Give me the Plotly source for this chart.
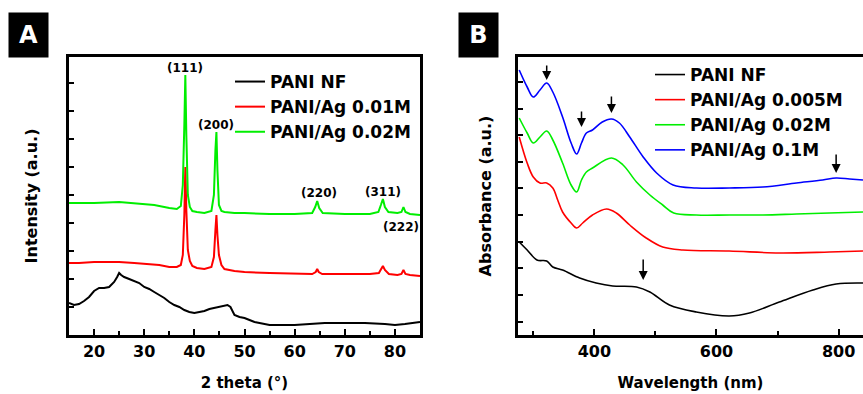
import plotly.graph_objects as go

# ---------------- Panel A: XRD ----------------
xrd_nf_x = [15,15.5,16,17,18,19,20,21,22,23,24,24.6,25,25.4,26,27,28,29,30,31,32,33,34,35,36,37,38,39,40,41,
            42,43,44,45,46,46.6,47.2,47.6,48,49,50,51,52,53,54,55,57,60,63,66,70,74,78,80,82,84,85]
xrd_nf_y = [32,31,30,31,34,38,44,47,47,48,53,58,62,60,58,56,54,52,48,46,43,40,37,33,30,28,25,23,22,23,
            24,26,27,28,29,30,28,24,20,18,17,15,13,12,11,10,10,10,11,12,12,12,11,10,11,12,13]

xrd_001_x = [15,17,20,23,25,28,30,33,35,36.5,37.3,37.7,38.0,38.2,38.4,38.7,39.1,39.6,40.5,42,
             43.4,43.9,44.2,44.4,44.6,44.9,45.4,46,48,50,55,60,63.5,64.2,64.5,64.8,65.5,70,75,76.8,
             77.3,77.6,78.0,78.8,80.5,81.3,81.7,82.1,83,85]
xrd_001_y = [72,72,73,73,73,72,71,70,68,68,70,80,120,168,125,85,74,69,67,66,
             68,78,105,120,100,80,70,66,64,63,62,61,61,63,66,63,61,61,61,62,
             66,69,65,61,60,61,65,61,60,59]

xrd_002_x = [15,20,25,28,32,35,36.5,37.3,37.7,38.0,38.2,38.4,38.7,39.1,39.6,40.5,42,43.4,43.9,44.2,
             44.4,44.6,44.9,45.4,46,48,50,55,60,63.5,64.1,64.5,64.9,65.6,70,75,76.7,77.2,77.6,78.0,
             78.7,80.5,81.3,81.7,82.1,83,85]
xrd_002_y = [132,132,133,132,130,127,126,129,150,210,260,200,140,128,124,123,122,124,140,185,
             203,165,130,124,123,122,122,121,121,122,128,134,127,122,121,121,123,130,136,128,
             123,122,123,128,123,121,120]

peak_labels = ["(111)", "(200)", "(220)", "(311)", "(222)"]
peak_label_x = [38.2, 44.4, 64.8, 77.6, 81.2]
peak_label_y = [267, 210, 142, 143, 108]

# ---------------- Panel B: UV-Vis ----------------
uv_nf_x = [277,290,306,322,332,348,376,403,430,469,491,523,567,621,654,703,758,796,840]
uv_nf_y = [93,85,75,74,68,65,57,52,49,48,43,30,23,19,22,33,45,51,52]

uv_0005_x = [277,290,300,311,322,332,340,348,362,371,381,397,420,436,458,485,512,545,621,703,785,840]
uv_0005_y = [198,172,158,152,152,147,135,123,112,107,112,120,126,122,110,97,88,85,84,82,83,84]

uv_002_x = [277,290,300,311,322,332,348,362,371,379,387,397,428,447,469,491,512,530,567,621,676,731,785,840]
uv_002_y = [217,202,192,198,204,195,172,150,143,155,163,167,177,170,153,140,130,122,120,120,120,121,122,123]

uv_01_x = [277,290,300,311,322,332,348,362,371,379,387,397,413,428,441,458,480,502,529,567,621,676,731,774,796,818,840]
uv_01_y = [265,248,238,245,252,243,218,192,181,192,202,205,213,216,212,198,178,162,150,147,147,148,152,155,157,156,155]

arrow_x = [322, 379, 428, 796, 480]
arrow_y = [255, 208, 222, 162, 55]
arrow_len = [-16, -17, -18, -20, -22]

FONT = "DejaVu Sans, Arial, sans-serif"
W, H = 863, 394
L_A, R_A = 69, 420
L_B = 518
TOP, BOT = 57, 335

fig = go.Figure()

fig.add_trace(go.Scatter(x=xrd_nf_x, y=xrd_nf_y, mode="lines", name="PANI NF",
                         line=dict(color="black", width=2), xaxis="x", yaxis="y", legend="legend"))
fig.add_trace(go.Scatter(x=xrd_001_x, y=xrd_001_y, mode="lines", name="PANI/Ag 0.01M",
                         line=dict(color="#ff0000", width=2), xaxis="x", yaxis="y", legend="legend"))
fig.add_trace(go.Scatter(x=xrd_002_x, y=xrd_002_y, mode="lines", name="PANI/Ag 0.02M",
                         line=dict(color="#00ee00", width=2), xaxis="x", yaxis="y", legend="legend"))

fig.add_trace(go.Scatter(x=uv_nf_x, y=uv_nf_y, mode="lines", name="PANI NF", line_shape="spline",
                         line=dict(color="black", width=1.6), xaxis="x2", yaxis="y2", legend="legend2"))
fig.add_trace(go.Scatter(x=uv_0005_x, y=uv_0005_y, mode="lines", name="PANI/Ag 0.005M", line_shape="spline",
                         line=dict(color="#ff0000", width=1.6), xaxis="x2", yaxis="y2", legend="legend2"))
fig.add_trace(go.Scatter(x=uv_002_x, y=uv_002_y, mode="lines", name="PANI/Ag 0.02M", line_shape="spline",
                         line=dict(color="#00ee00", width=1.6), xaxis="x2", yaxis="y2", legend="legend2"))
fig.add_trace(go.Scatter(x=uv_01_x, y=uv_01_y, mode="lines", name="PANI/Ag 0.1M", line_shape="spline",
                         line=dict(color="#0000ff", width=1.6), xaxis="x2", yaxis="y2", legend="legend2"))

axis_common = dict(showline=True, linecolor="black", linewidth=2.5, ticks="inside",
                   tickcolor="black", tickwidth=2, showgrid=False, zeroline=False,
                   tickfont=dict(family=FONT, size=16, color="black", weight="bold"))
title_font = dict(family=FONT, size=16, color="black", weight="bold")

fig.update_layout(
    width=W, height=H,
    margin=dict(l=0, r=0, t=TOP, b=H - BOT),
    paper_bgcolor="white", plot_bgcolor="white",
    font=dict(family=FONT, color="black"),
    xaxis=dict(domain=[L_A / W, R_A / W], range=[15, 85], dtick=10, tick0=0, ticklen=6,
               mirror=True, anchor="y",
               minor=dict(dtick=5, ticks="inside", ticklen=4, tickwidth=2, tickcolor="black"),
               title=dict(text="2 theta (°)", standoff=18,
                          font=dict(family=FONT, size=15, color="black", weight="bold")),
               **axis_common),
    yaxis=dict(domain=[0, 1], range=[0, 278], tick0=0, dtick=28, ticklen=5, showticklabels=False,
               mirror=True, anchor="x",
               title=dict(text="Intensity (a.u.)", standoff=25, font=title_font),
               **axis_common),
    xaxis2=dict(domain=[L_B / W, 1.0], range=[275, 840], dtick=200, tick0=0, ticklen=6,
                mirror=True, anchor="y2",
                minor=dict(dtick=100, ticks="inside", ticklen=4, tickwidth=2, tickcolor="black"),
                title=dict(text="Wavelength (nm)", standoff=18,
                           font=dict(family=FONT, size=15, color="black", weight="bold")),
                **axis_common),
    yaxis2=dict(domain=[0, 1], range=[0, 278], tick0=13.3, dtick=26.65, ticklen=5,
                showticklabels=False, anchor="x2",
                title=dict(text="Absorbance (a.u.)", standoff=20, font=title_font),
                **axis_common),
    legend=dict(x=(236 - 6) / W, xanchor="left", y=(BOT - 64) / (BOT - TOP), yanchor="top",
                bgcolor="rgba(0,0,0,0)", font=dict(family=FONT, size=17, color="black", weight="bold"),
                tracegroupgap=0, itemwidth=30),
    legend2=dict(x=(658 - 8) / W, xanchor="left", y=(BOT - 57) / (BOT - TOP), yanchor="top",
                 bgcolor="rgba(0,0,0,0)", font=dict(family=FONT, size=17, color="black", weight="bold"),
                 tracegroupgap=0, itemwidth=30),
    showlegend=True,
)

# peak labels panel A
for t, px, py in zip(peak_labels, peak_label_x, peak_label_y):
    fig.add_annotation(x=px, y=py, xref="x", yref="y", text=t, showarrow=False,
                       font=dict(family=FONT, size=12, color="black", weight="bold"))

# arrows panel B
for ax_, ay_, ln in zip(arrow_x, arrow_y, arrow_len):
    fig.add_annotation(x=ax_, y=ay_, xref="x2", yref="y2", text="", showarrow=True,
                       ax=0, ay=ln, axref="pixel", ayref="pixel",
                       arrowhead=2, arrowsize=1.2, arrowwidth=1.5, arrowcolor="black", standoff=0)

# panel letters
for letter, lx in (("A", 8), ("B", 458)):
    fig.add_annotation(x=lx / W, y=(BOT - 12) / (BOT - TOP), xref="paper", yref="paper",
                       xanchor="left", yanchor="top", text=letter, showarrow=False,
                       width=39, height=44, bgcolor="black", borderpad=0,
                       font=dict(family=FONT, size=24, color="white", weight="bold"))

fig.write_html("out.html", config={"displayModeBar": False},
               post_script="document.body.style.margin='0';document.body.style.overflow='hidden';")
